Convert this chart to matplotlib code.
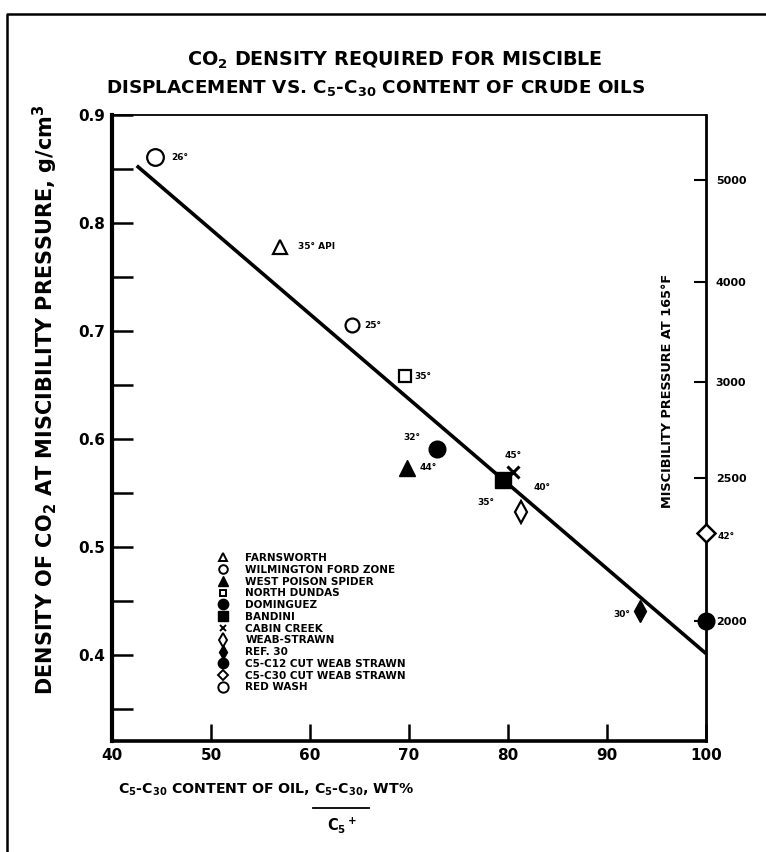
import numpy as np
import matplotlib as mpl
import matplotlib.pyplot as plt
from matplotlib.lines import Line2D

mpl.rcParams.update({
    "font.family": "DejaVu Sans",
    "font.weight": "bold",
    "mathtext.default": "bf",
    "xtick.direction": "in",
    "ytick.direction": "in",
})

# data
fields = ["FARNSWORTH", "WILMINGTON FORD ZONE", "WEST POISON SPIDER", "NORTH DUNDAS",
          "DOMINGUEZ", "BANDINI", "CABIN CREEK", "WEAB-STRAWN", "REF. 30",
          "C5-C12 CUT WEAB STRAWN", "C5-C30 CUT WEAB STRAWN", "RED WASH"]
c5c30 = [57.0, 64.2, 69.8, 69.6, 72.8, 79.5, 80.5, 81.3, 93.3, 100.0, 100.0, 44.3]
density = [0.778, 0.705, 0.573, 0.658, 0.591, 0.562, 0.569, 0.532, 0.440, 0.431, 0.513, 0.861]
gravity = ["35° API", "25°", "44°", "35°", "32°", "35°", "45°", "40°", "30°", "", "42°", "26°"]

fit_x = [42.5, 100.0]
fit_y = [0.853, 0.401]

pressure_labels = ["5000", "4000", "3000", "2500", "2000"]
pressure_at_density = [0.840, 0.745, 0.653, 0.564, 0.431]

# marker styles: (marker, size, facecolor, edge width)
styles = [("^", 10, "white", 1.6), ("o", 10, "white", 1.6), ("^", 12, "black", 1.0),
          ("s", 8, "white", 1.6), ("o", 12, "black", 1.0), ("s", 11, "black", 1.0),
          ("x", 8, "black", 2.2), ("d", 11, "white", 1.6), ("d", 11, "black", 1.0),
          ("o", 12, "black", 1.0), ("D", 9, "white", 1.8), ("o", 12, "white", 1.6)]
# label offsets in points and alignment
offsets = [(13, 0, "left"), (9, 0, "left"), (9, 0, "left"), (7, 0, "left"),
           (-12, 8, "right"), (-6, -16, "right"), (0, 12, "center"), (9, 18, "left"),
           (-7, -2, "right"), (0, 0, "left"), (8, -3, "left"), (12, 0, "left")]

fig = plt.figure(figsize=(7.66, 8.52), dpi=100)
ax = fig.add_axes([112 / 766, 1 - 741 / 852, 594 / 766, 626 / 852])

ax.plot(fit_x, fit_y, color="black", lw=2.6, solid_capstyle="butt")

handles = []
for i in range(len(fields)):
    m, ms, fc, mew = styles[i]
    ax.plot(c5c30[i], density[i], linestyle="none", marker=m, markersize=ms,
            markerfacecolor=fc, markeredgecolor="black", markeredgewidth=mew,
            clip_on=False, zorder=5)
    if gravity[i]:
        dx, dy, ha = offsets[i]
        ax.annotate(gravity[i], (c5c30[i], density[i]), xytext=(dx, dy),
                    textcoords="offset points", ha=ha, va="center",
                    fontsize=6.5, fontweight="bold")
    handles.append(Line2D([], [], linestyle="none", marker=m, markersize=ms * 0.62,
                          markerfacecolor=fc, markeredgecolor="black",
                          markeredgewidth=min(mew, 1.4), label=fields[i]))

leg = ax.legend(handles=handles, loc="upper left", bbox_to_anchor=(0.17, 0.307),
                frameon=False, fontsize=7.5, labelspacing=0.17, handletextpad=1.5,
                handlelength=1.2, borderaxespad=0)
for t in leg.get_texts():
    t.set_fontweight("bold")

ax.set_xlim(40, 100)
ax.set_ylim(0.32, 0.9)
ax.set_xticks([40, 50, 60, 70, 80, 90, 100])
ax.set_xticklabels(["40", "50", "60", "70", "80", "90", "100"])
yt = np.round(np.arange(0.35, 0.901, 0.05), 2)
ax.set_yticks(yt)
ax.set_yticklabels([f"{v:.1f}" if abs(v * 10 - round(v * 10)) < 1e-6 and v >= 0.4 else "" for v in yt])
ax.tick_params(axis="x", length=12, width=1.8, labelsize=11, pad=5)
ax.tick_params(axis="y", length=15, width=1.8, labelsize=11, pad=5)
for lab in ax.get_xticklabels() + ax.get_yticklabels():
    lab.set_fontweight("bold")

ax.spines["left"].set_linewidth(3.0)
ax.spines["bottom"].set_linewidth(2.6)
ax.spines["top"].set_linewidth(1.3)
ax.spines["right"].set_linewidth(2.0)

ax2 = ax.twinx()
ax2.set_ylim(ax.get_ylim())
ax2.set_yticks(pressure_at_density)
ax2.set_yticklabels(pressure_labels)
ax2.tick_params(axis="y", length=9, width=1.5, labelsize=8, pad=7)
for lab in ax2.get_yticklabels():
    lab.set_fontweight("bold")
for s in ax2.spines.values():
    s.set_visible(False)

ax.text(0.935, 0.56, "MISCIBILITY PRESSURE AT 165°F", transform=ax.transAxes,
        rotation=90, ha="center", va="center", fontsize=9.3, fontweight="bold")

fig.text(0.516, 1 - 60 / 852, "CO$_2$ DENSITY REQUIRED FOR MISCIBLE",
         ha="center", va="center", fontsize=13.8, fontweight="bold")
fig.text(0.49, 1 - 88 / 852, "DISPLACEMENT VS. C$_5$-C$_{30}$ CONTENT OF CRUDE OILS",
         ha="center", va="center", fontsize=13.2, fontweight="bold")
fig.text(45 / 766, 1 - 400 / 852, "DENSITY OF CO$_2$ AT MISCIBILITY PRESSURE, g/cm$^3$",
         rotation=90, ha="center", va="center", fontsize=15, fontweight="bold")
fig.text(118 / 766, 1 - 790 / 852, "C$_5$-C$_{30}$ CONTENT OF OIL, C$_5$-C$_{30}$, WT%",
         ha="left", va="center", fontsize=10.2, fontweight="bold")
fig.text(342 / 766, 1 - 825 / 852, "C$_5$$^+$", ha="center", va="center",
         fontsize=10.5, fontweight="bold")
fig.add_artist(Line2D([313 / 766, 369 / 766], [1 - 808 / 852, 1 - 808 / 852],
                      transform=fig.transFigure, color="black", lw=1.3))

# outer frame of the scanned page (left and top edges)
fig.add_artist(Line2D([7 / 766, 7 / 766, 1.0], [0, 1 - 14 / 852, 1 - 14 / 852],
                      transform=fig.transFigure, color="black", lw=1.8))

fig.savefig("out.png", dpi=100)
